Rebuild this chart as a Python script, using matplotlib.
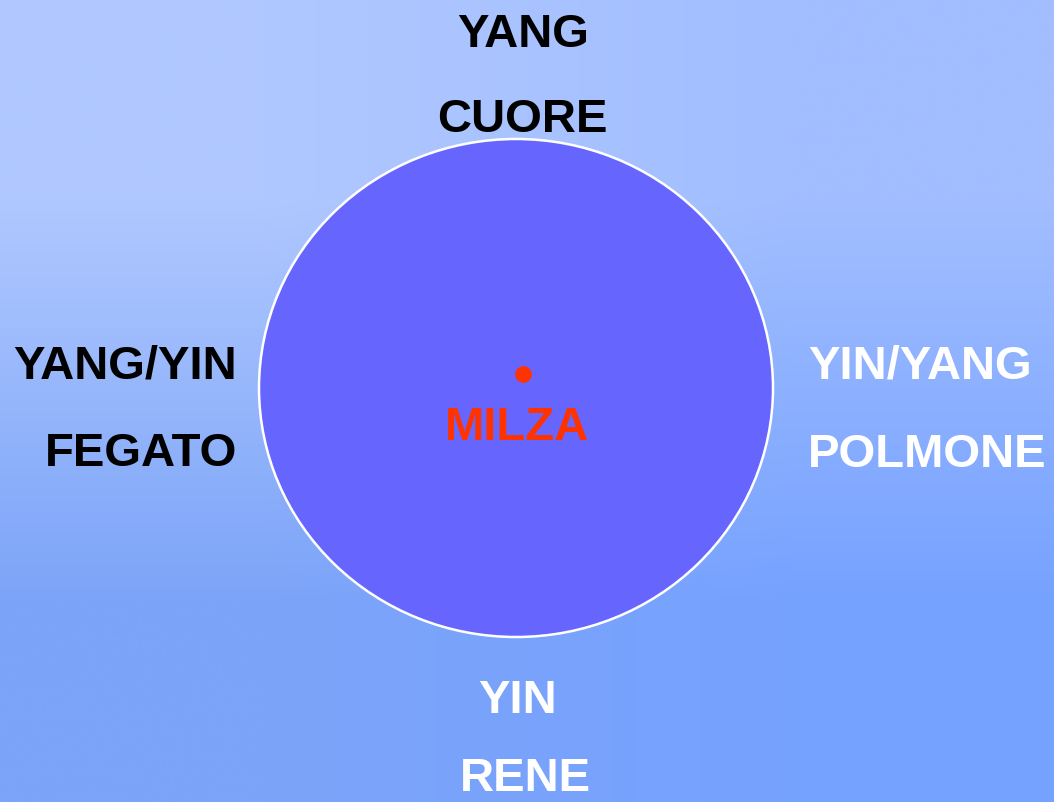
import matplotlib.pyplot as plt
import numpy as np
from matplotlib.patches import Ellipse

# Testi e posizioni (pixel, origine in alto a sinistra)
etichette = ["YANG", "CUORE", "YANG/YIN", "FEGATO", "YIN/YANG", "POLMONE", "YIN", "RENE"]
colori = ["black", "black", "black", "black", "white", "white", "white", "white"]
pos_x = [523, 522, 237, 237, 808, 808, 518, 525]
pos_y = [47, 132, 379, 466, 379, 467, 713, 791]
allin = ["center", "center", "right", "right", "left", "left", "center", "center"]

centro = "MILZA"

W, H = 1054, 803
fig = plt.figure(figsize=(W / 100, H / 100), dpi=100)
ax = fig.add_axes([0, 0, 1, 1])
ax.set_xlim(0, W)
ax.set_ylim(H, 0)
ax.axis("off")

# Sfondo sfumato
sfondo = np.array([[[176, 200, 255], [162, 190, 255]],
                   [[124, 164, 248], [118, 162, 255]]]) / 255
ax.imshow(sfondo, extent=(0, W, H, 0), interpolation="bilinear", aspect="auto", zorder=0)

# Cerchio
ax.add_patch(Ellipse((516, 389), 514, 498, facecolor="#6666FF", edgecolor="white",
                     linewidth=1.8, zorder=1))
ax.plot([523], [375], "o", color="#FF3300", markersize=11, zorder=2)

for txt, c, x, y, ha in zip(etichette, colori, pos_x, pos_y, allin):
    ax.text(x, y, txt, color=c, ha=ha, va="baseline", fontsize=34,
            fontweight="bold", family="Liberation Sans", zorder=3)

ax.text(517, 440, centro, color="#FF3300", ha="center", va="baseline", fontsize=34,
        fontweight="bold", family="Liberation Sans", zorder=3)

fig.savefig("out.png", dpi=100)
